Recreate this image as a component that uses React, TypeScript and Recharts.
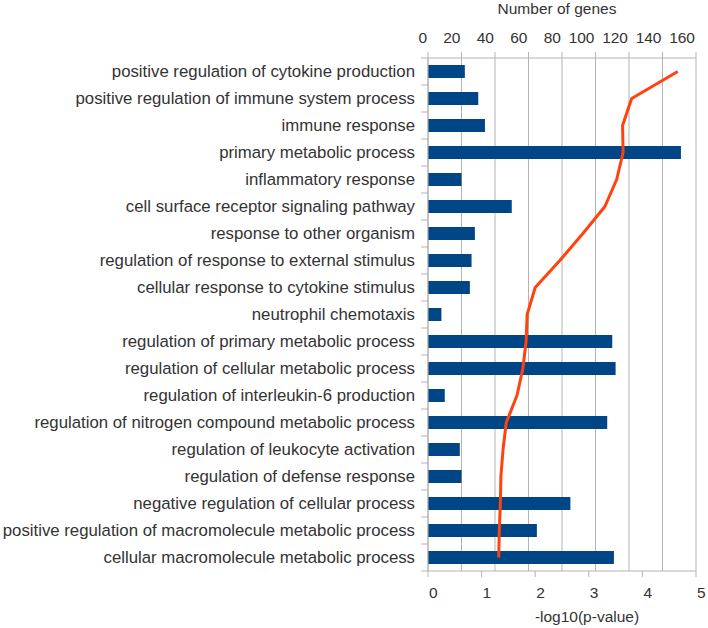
import React from 'react';
import {
  ComposedChart, Bar, Line, XAxis, YAxis, CartesianGrid,
} from 'recharts';

const terms = [
  'positive regulation of cytokine production',
  'positive regulation of immune system process',
  'immune response',
  'primary metabolic process',
  'inflammatory response',
  'cell surface receptor signaling pathway',
  'response to other organism',
  'regulation of response to external stimulus',
  'cellular response to cytokine stimulus',
  'neutrophil chemotaxis',
  'regulation of primary metabolic process',
  'regulation of cellular metabolic process',
  'regulation of interleukin-6 production',
  'regulation of nitrogen compound metabolic process',
  'regulation of leukocyte activation',
  'regulation of defense response',
  'negative regulation of cellular process',
  'positive regulation of macromolecule metabolic process',
  'cellular macromolecule metabolic process',
];

const geneCounts = [22, 30, 34, 151, 20, 50, 28, 26, 25, 8, 110, 112, 10, 107, 19, 20, 85, 65, 111];

const logP = [4.66, 3.8, 3.63, 3.64, 3.52, 3.3, 2.89, 2.46, 2.0, 1.85, 1.83, 1.77, 1.66, 1.46, 1.4, 1.36, 1.35, 1.33, 1.32];

const geneTicks = [0, 20, 40, 60, 80, 100, 120, 140, 160];
const pTicks = [0, 1, 2, 3, 4, 5];

const data = terms.map((name, i) => ({ name, genes: geneCounts[i], p: logP[i] }));

const W = 708;
const H = 628;
const TOP_H = 58;
const BOTTOM_H = 57;
const LEFT_W = 428;
const BAND = (H - TOP_H - BOTTOM_H) / terms.length;
const FONT = '"Liberation Sans", Arial, sans-serif';
const GRID = '#b3b3b3';
const TEXT = '#333333';

const CategoryTick = (props: any) => {
  const { x, y, payload, index } = props;
  const axisX = x + 13;
  return (
    <g>
      <text x={x} y={y} dy={5.5} textAnchor="end" fill={TEXT} fontSize={16.8} fontFamily={FONT}>
        {payload.value}
      </text>
      <line x1={axisX - 7} x2={axisX} y1={y - BAND / 2} y2={y - BAND / 2} stroke={GRID} />
      {index === terms.length - 1 && (
        <line x1={axisX - 7} x2={axisX} y1={y + BAND / 2} y2={y + BAND / 2} stroke={GRID} />
      )}
    </g>
  );
};

// libreoffice puts the top labels right-aligned to the tick
const TopTick = (props: any) => {
  const { x, y, payload } = props;
  return (
    <text x={x - 1} y={y} textAnchor="end" fill={TEXT} fontSize={15.5} fontFamily={FONT}>
      {payload.value}
    </text>
  );
};

// ...and the bottom ones left-aligned
const BottomTick = (props: any) => {
  const { x, y, payload } = props;
  return (
    <text x={x + 1} y={y} dy={11} textAnchor="start" fill={TEXT} fontSize={15.5} fontFamily={FONT}>
      {payload.value}
    </text>
  );
};

const axisTitle = (text: string, shift: number, top: boolean) => (props: any) => {
  const vb = props.viewBox;
  const cx = vb.x + vb.width / 2 + shift;
  const cy = top ? vb.y + 14 : vb.y + vb.height - 6;
  return (
    <text x={cx} y={cy} textAnchor="middle" fill={TEXT} fontSize={15.5} fontFamily={FONT}>
      {text}
    </text>
  );
};

export default function App() {
  return (
    <div style={{ position: 'absolute', left: 0, top: 0, background: '#fff' }}>
      <ComposedChart
        width={W}
        height={H}
        data={data}
        layout="vertical"
        margin={{ top: 0, right: 12, bottom: 0, left: 0 }}
        style={{ fontFamily: FONT }}
      >
        <CartesianGrid xAxisId="genes" horizontal={false} stroke={GRID} verticalValues={geneTicks} />
        <XAxis
          xAxisId="genes"
          orientation="top"
          type="number"
          domain={[0, 160]}
          ticks={geneTicks}
          height={TOP_H}
          tickSize={6}
          tickMargin={9}
          stroke={GRID}
          tick={<TopTick />}
          label={{ content: axisTitle('Number of genes', -5, true) }}
        />
        <XAxis
          xAxisId="p"
          orientation="bottom"
          type="number"
          domain={[0, 5]}
          ticks={pTicks}
          height={BOTTOM_H}
          tickSize={6}
          tickMargin={10}
          stroke={GRID}
          tick={<BottomTick />}
          label={{ content: axisTitle('-log10(p-value)', 25, false) }}
        />
        <YAxis
          type="category"
          dataKey="name"
          width={LEFT_W}
          interval={0}
          tickLine={false}
          tickSize={0}
          tickMargin={13}
          stroke={GRID}
          tick={<CategoryTick />}
        />
        <Bar xAxisId="genes" dataKey="genes" fill="#004586" barSize={13} isAnimationActive={false} />
        <Line
          xAxisId="p"
          dataKey="p"
          stroke="#ff420e"
          strokeWidth={3}
          dot={false}
          type="linear"
          strokeLinejoin="round"
          isAnimationActive={false}
        />
      </ComposedChart>
    </div>
  );
}
